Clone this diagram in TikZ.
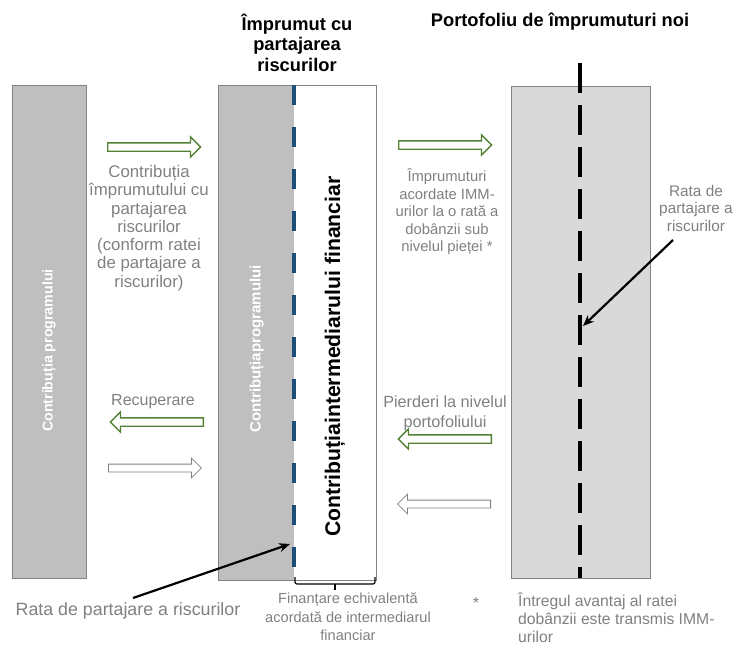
\documentclass[tikz,border=0pt]{standalone}
\usepackage{fontspec}
\setmainfont{Liberation Sans}
\usetikzlibrary{shapes.arrows,arrows.meta}
\definecolor{txtgray}{RGB}{128,128,128}
\definecolor{boxgray}{RGB}{191,191,191}
\definecolor{lightbox}{RGB}{217,217,217}
\definecolor{edgegray}{RGB}{130,130,130}
\definecolor{arrgreen}{RGB}{84,130,53}
\definecolor{dashblue}{RGB}{31,78,121}
\newcommand{\fs}[2]{\fontsize{#1}{#2}\selectfont}
\begin{document}
\begin{tikzpicture}[x=1pt,y=-1pt,
  lbl/.style={text=txtgray, font=\fs{16}{18.3}, align=center, inner sep=0pt},
  ttl/.style={font=\fs{18.3}{20.5}\bfseries, align=center, inner sep=0pt},
  blk/.style={single arrow, draw=#1, fill=white, minimum width=19pt, minimum height=93pt,
              single arrow head extend=6pt, inner sep=3.5pt, anchor=tail},
  grn/.style={blk=arrgreen, line width=1.3pt},
  gry/.style={blk=edgegray, line width=0.8pt},
  pointer/.style={line width=2.2pt, -{Stealth[length=11pt,width=9pt]}},
  whitetxt/.style={text=white, rotate=90, inner sep=0pt, anchor=west},
]
\useasboundingbox (0,0) rectangle (734,654);

% boxes
\node[draw=edgegray, fill=boxgray, line width=0.8pt, minimum width=74pt, minimum height=493pt, inner sep=0pt] (left) at (49,331.5) {};
\fill[boxgray] (218,85) rectangle (294,580);
\node[draw=edgegray, line width=0.8pt, minimum width=158pt, minimum height=495pt, inner sep=0pt] (mid) at (297,332.5) {};
\node[draw=edgegray, fill=lightbox, line width=0.8pt, minimum width=139pt, minimum height=492pt, inner sep=0pt] (right) at (580.5,332) {};

% dashed lines
\coordinate (bt) at (294,85);
\coordinate (bb) at (294,580);
\draw[dashblue, line width=3.5pt, dash pattern=on 20pt off 22pt] (bt) -- (bb);
\coordinate (kt) at (580,63);
\coordinate (kb) at (580,578);
\draw[black, line width=3.2pt, dash pattern=on 30pt off 12pt] (kt) -- (kb);

% rotated texts
\node[whitetxt, font=\fs{14.2}{16}\bfseries] (lt) at (49,432) {Contribuția programului};
\node[whitetxt, font=\fs{15}{16}\bfseries] (mt) at (257,433) {Contribuțiaprogramului};
\node[rotate=90, inner sep=0pt, anchor=west, font=\fs{21.2}{22}\bfseries] (ft) at (335,537) {Contribuțiaintermediarului financiar};

% titles
\node[ttl] (t1) at (297,42.5) {Împrumut cu\\partajarea\\riscurilor};
\node[ttl] (t2) at (560,22) {Portofoliu de împrumuturi noi};

% block arrows
\node[grn] (a1) at (107,147) {};
\node[grn, shape border rotate=180] (a2) at (204,422) {};
\node[gry] (a3) at (108,468) {};
\node[grn] (a4) at (398,145) {};
\node[grn, shape border rotate=180] (a5) at (492,439) {};
\node[gry, shape border rotate=180] (a6) at (491,504) {};

% labels
\node[lbl, font=\fs{16.8}{18.3}] (l1) at (149,228) {Contribuția\\împrumutului cu\\partajarea\\riscurilor\\(conform ratei\\de partajare a\\riscurilor)};
\node[lbl] (l2) at (153,402) {Recuperare};
\node[lbl, font=\fs{14.8}{17.5}] (l3) at (447,212) {Împrumuturi\\acordate IMM-\\urilor la o rată a\\dobânzii sub\\nivelul pieței *};
\node[lbl, font=\fs{16.2}{20}] (l4) at (445,413) {Pierderi la nivelul\\portofoliului};
\node[lbl, font=\fs{15.4}{17.5}] (l5) at (696,208) {Rata de\\partajare a\\riscurilor};
\node[lbl, font=\fs{17.8}{20}] (l6) at (128,611) {Rata de partajare a riscurilor};
\node[lbl, font=\fs{14.6}{18.5}] (l7) at (348,617) {Finanțare echivalentă\\acordată de intermediarul\\financiar};
\node[lbl] (l8) at (476,603) {*};
\node[lbl, font=\fs{15.7}{18}, align=left, anchor=west] (l9) at (518,618) {Întregul avantaj al ratei\\dobânzii este transmis IMM-\\urilor};

% pointers
\coordinate (p1s) at (673,240);
\coordinate (p1e) at (583,326);
\draw[pointer] (p1s) -- (p1e);
\coordinate (p2s) at (133,598);
\coordinate (p2e) at (290,544);
\draw[pointer] (p2s) -- (p2e);

% brace
\coordinate (br1) at (295,577);
\coordinate (br2) at (375,577);
\coordinate (brm) at (335,590);
\draw[black, line width=1.2pt, rounded corners=2pt] (br1) -- (295,584) -- (375,584) -- (br2);
\draw[black, line width=1.2pt] (335,584) -- (brm);
\end{tikzpicture}
\end{document}
